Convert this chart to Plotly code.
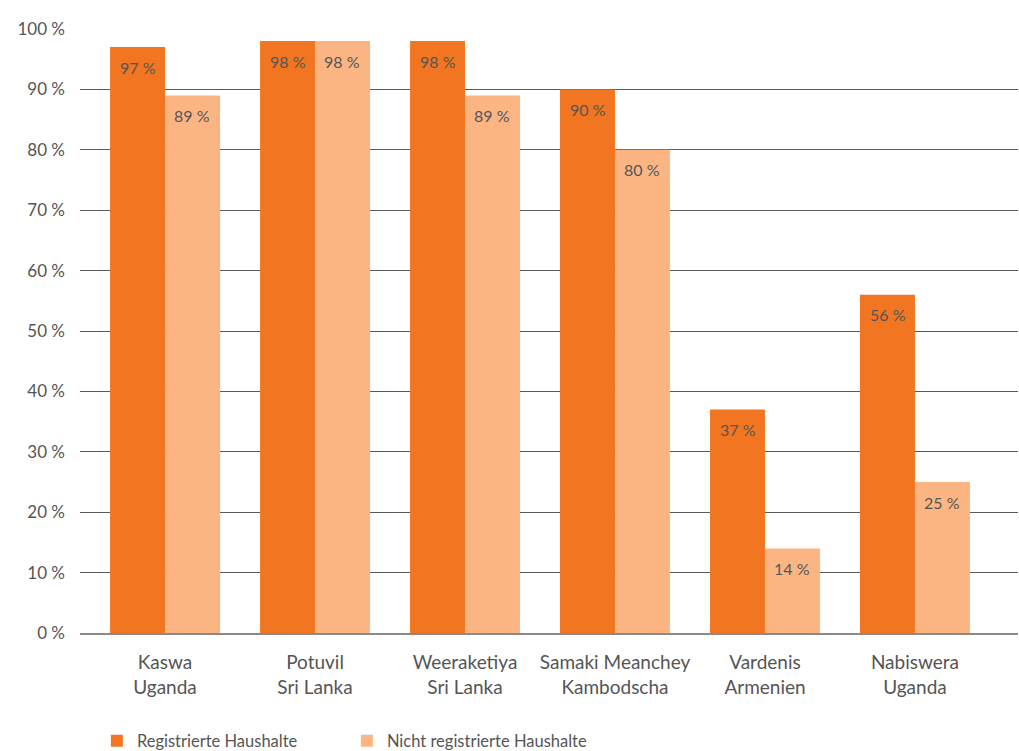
import plotly.graph_objects as go

# Standorte (zweizeilige Achsenbeschriftung) und Anteile in Prozent
standorte = ["Kaswa<br>Uganda", "Potuvil<br>Sri Lanka", "Weeraketiya<br>Sri Lanka",
             "Samaki Meanchey<br>Kambodscha", "Vardenis<br>Armenien", "Nabiswera<br>Uganda"]
registriert = [97, 98, 98, 90, 37, 56]
nicht_registriert = [89, 98, 89, 80, 14, 25]
y_ticks = list(range(0, 101, 10))
y_tick_labels = [f"{v} %" for v in y_ticks]

ORANGE = "#F27622"
HELL = "#FBB583"
TEXT = "#555555"
FONT = "Lato, 'Open Sans', sans-serif"

fig = go.Figure()
fig.add_trace(go.Bar(x=standorte, y=registriert, name="Registrierte Haushalte",
                     marker=dict(color=ORANGE, line=dict(width=0)), offsetgroup="a"))
fig.add_trace(go.Bar(x=standorte, y=nicht_registriert, name="Nicht registrierte Haushalte",
                     marker=dict(color=HELL, line=dict(width=0)), offsetgroup="b"))

# Wertbeschriftungen knapp unterhalb der Balkenoberkante
annotations = []
for i, (a, b) in enumerate(zip(registriert, nicht_registriert)):
    for val, shift in ((a, -0.183), (b, 0.183)):
        annotations.append(dict(
            x=i + shift, y=val, xref="x", yref="y", text=f"{val} %",
            showarrow=False, yshift=-20, yanchor="middle",
            font=dict(family=FONT, size=16, color=TEXT)))

fig.update_layout(
    width=1019, height=751,
    margin=dict(l=80, r=1, t=29, b=118, autoexpand=False),
    paper_bgcolor="white", plot_bgcolor="white",
    barmode="group", bargap=0.267, bargroupgap=0,
    font=dict(family=FONT, color=TEXT),
    annotations=annotations,
    showlegend=True,
    legend=dict(orientation="h", x=0.018, y=-0.179, xanchor="left", yanchor="middle",
                entrywidth=205, entrywidthmode="pixels",
                font=dict(family=FONT, size=16.5, color=TEXT)),
    xaxis=dict(type="category", range=[-0.567, 5.687], showgrid=False,
               showline=True, linecolor="#8a8a8a", linewidth=2, ticks="",
               ticklabelstandoff=11,
               tickfont=dict(family=FONT, size=19, color=TEXT), fixedrange=True),
    yaxis=dict(range=[0, 100], tickvals=y_ticks, ticktext=y_tick_labels,
               showgrid=True, gridcolor="#5a5a5a", gridwidth=1, zeroline=False,
               ticks="", ticklabelstandoff=14,
               tickfont=dict(family=FONT, size=17, color=TEXT), fixedrange=True),
)

fig.write_html("out.html")
